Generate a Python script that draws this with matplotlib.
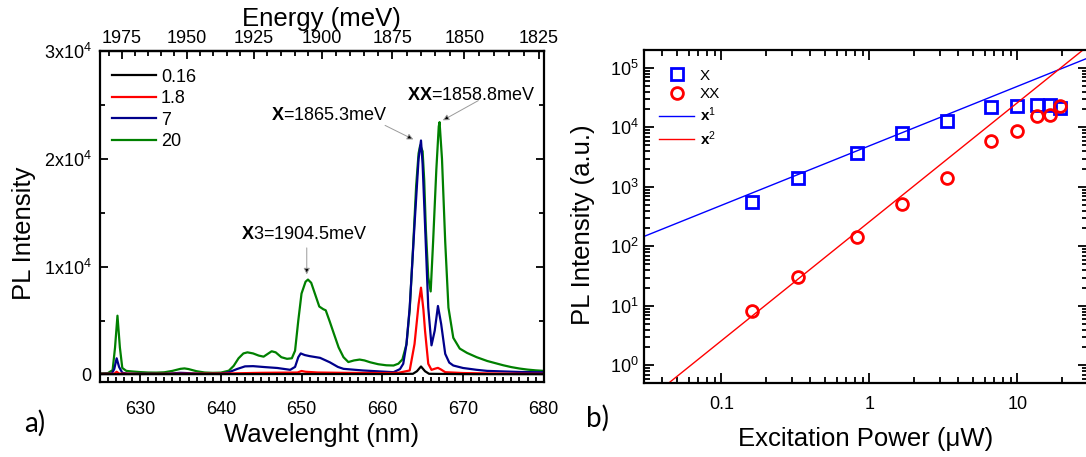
import numpy as np
import matplotlib
matplotlib.use("Agg")
import matplotlib.pyplot as plt
from matplotlib.ticker import MultipleLocator, FuncFormatter, LogLocator, NullFormatter

plt.rcParams['font.family'] = ['Liberation Sans', 'DejaVu Sans']
plt.rcParams['mathtext.fontset'] = 'custom'
plt.rcParams['mathtext.rm'] = 'Liberation Sans'
plt.rcParams['mathtext.bf'] = 'Liberation Sans:bold'
plt.rcParams['mathtext.it'] = 'Liberation Sans:italic'

# ---------------- data: panel a (PL spectra) ----------------
power_labels = ['0.16', '1.8', '7', '20']
line_colors = ['black', 'red', '#00008B', 'green']

wl_016 = [625, 640, 650, 660, 663.8, 664.3, 664.8, 665.3, 665.8, 670, 680]
pl_016 = [20, 30, 40, 40, 60, 300, 740, 300, 60, 30, 20]

wl_18 = [625, 626.8, 627.1, 627.4, 630, 640, 645, 649.5, 650.0, 650.5, 652, 655, 660, 662,
         663.4, 664.0, 664.5, 664.8, 665.1, 665.3, 665.7, 666.1, 666.6, 666.9, 667.3, 667.8,
         670, 675, 680]
pl_18 = [50, 60, 250, 80, 50, 80, 150, 180, 320, 250, 180, 150, 130, 150,
         370, 2830, 6500, 8050, 6000, 4060, 990, 430, 550, 610, 450, 210,
         130, 80, 60]

wl_7 = [625, 626.5, 626.8, 627.1, 627.4, 627.8, 628.5, 630, 633, 635, 636, 638, 640, 641, 642,
        643, 644, 645.5, 647, 648.6, 649.2, 649.6, 649.9, 650.4, 651.0, 652.3, 653.5, 654.5,
        655.2, 657.6, 659.7, 661.4, 662.2, 662.6, 663.0, 663.4, 664.0, 664.5, 664.8, 665.0,
        665.3, 665.7, 666.1, 666.5, 666.9, 667.3, 667.8, 668.3, 668.8, 670, 671.7, 673, 675,
        677, 680]
pl_7 = [60, 80, 500, 1500, 700, 150, 80, 70, 60, 150, 120, 60, 80, 200, 500,
        750, 770, 680, 600, 430, 700, 1600, 1950, 1800, 1700, 1540, 1130, 700,
        520, 370, 280, 210, 500, 990, 2800, 6200, 13900, 20000, 21700, 19500,
        13900, 6200, 2700, 4060, 6350, 4670, 1910, 1100, 830, 600, 430, 330, 280,
        230, 200]

wl_20 = [625.0, 626.0, 626.6, 626.9, 627.2, 627.5, 627.8, 628.3, 629.0, 630.0, 631.0, 632.0,
         633.0, 634.0, 635.0, 635.5, 636.0, 637.0, 638.0, 639.0, 640.0, 641.0, 641.6, 642.2,
         642.8, 643.3, 644.0, 644.7, 645.3, 645.8, 646.3, 646.8, 647.5, 648.2, 648.8, 649.2,
         649.6, 650.0, 650.5, 650.8, 651.2, 651.7, 652.2, 652.7, 653.0, 653.5, 654.0, 654.6,
         655.2, 655.8, 656.5, 657.2, 657.8, 658.5, 659.5, 660.5, 661.4, 662.0, 662.5, 663.0,
         663.4, 663.8, 664.2, 664.5, 664.7, 665.0, 665.2, 665.4, 665.7, 666.0, 666.3, 666.7,
         667.0, 667.1, 667.4, 667.8, 668.2, 668.8, 669.6, 670.5, 671.7, 673.0, 674.0, 675.0,
         676.0, 677.0, 678.0, 679.0, 680.0]
pl_20 = [100, 120, 400, 2500, 5450, 2500, 600, 330, 280, 220, 180, 170,
         200, 330, 520, 560, 500, 300, 180, 150, 170, 350, 800, 1500,
         1950, 2050, 1950, 1750, 1650, 1900, 2150, 2050, 1600, 1450, 1500, 2200,
         5000, 7500, 8600, 8800, 8500, 7400, 6300, 6050, 5950, 4900, 3800, 2500,
         1600, 1150, 1300, 1380, 1300, 1130, 950, 850, 830, 1000, 1400, 2800,
         6000, 11500, 17500, 20500, 21250, 20700, 18000, 13500, 9000, 7700, 12300, 19000,
         23000, 23400, 20000, 12300, 6200, 3400, 2400, 2000, 1600, 1250, 1050, 850,
         680, 550, 450, 380, 330]

# ---------------- data: panel b (power dependence) ----------------
power = [0.16, 0.33, 0.83, 1.67, 3.33, 6.67, 10, 13.5, 16.5, 19.5]
int_X = [550, 1390, 3720, 8040, 12700, 21900, 23000, 24000, 23400, 21500]
int_XX = [8.1, 30.9, 144, 513, 1420, 5840, 8580, 15300, 16000, 23000]
fit_power = [0.03, 30]
fit_x1 = [147, 147000]
fit_x2 = [0.234, 234000]

HC = 1239841.98  # meV*nm


def wl2e(w):
    w = np.asarray(w, dtype=float)
    return HC / np.where(w == 0, 1e-9, w)


fig = plt.figure(figsize=(10.86, 4.57), dpi=100)

# ---------------- panel a ----------------
ax = fig.add_axes([99.7 / 1086, 1 - 382 / 457, 444 / 1086, 331 / 457])
series = [(wl_20, pl_20, 3), (wl_7, pl_7, 2), (wl_18, pl_18, 1), (wl_016, pl_016, 0)]
handles = {}
for wl, pl, i in series:
    h, = ax.plot(wl, pl, color=line_colors[i], lw=1.6, label=power_labels[i])
    handles[i] = h
ax.set_xlim(625, 680)
ax.set_ylim(-700, 30000)
ax.xaxis.set_major_locator(MultipleLocator(10))
ax.xaxis.set_minor_locator(MultipleLocator(1))
ax.yaxis.set_major_locator(MultipleLocator(10000))
ax.yaxis.set_minor_locator(MultipleLocator(5000))


def yfmt(v, pos):
    n = int(round(v / 1e4))
    if n == 0:
        return '0'
    return f'{n}x10$^{{4}}$'


ax.yaxis.set_major_formatter(FuncFormatter(yfmt))
ax.tick_params(axis='both', which='both', direction='in', labelsize=13, width=1.3,
               top=False, right=True)
ax.tick_params(axis='both', which='major', length=6)
ax.tick_params(axis='both', which='minor', length=3.5)
ax.tick_params(axis='x', which='major', pad=14)
ax.tick_params(axis='y', which='major', pad=6)
for s in ax.spines.values():
    s.set_linewidth(1.6)
ax.set_xlabel('Wavelenght (nm)', fontsize=18.5, labelpad=3)
ax.set_ylabel('PL Intensity', fontsize=18.5)
ax.yaxis.set_label_coords(-0.143, 0.45)

sec = ax.secondary_xaxis('top', functions=(wl2e, wl2e))
sec.xaxis.set_major_locator(MultipleLocator(25))
sec.xaxis.set_minor_locator(MultipleLocator(5))
sec.tick_params(axis='x', which='both', direction='in', labelsize=13, width=1.3)
sec.tick_params(axis='x', which='major', length=6, pad=3)
sec.tick_params(axis='x', which='minor', length=3.5)
sec.set_xlabel('Energy (meV)', fontsize=18.5, labelpad=3)
sec.spines['top'].set_linewidth(1.6)

leg = ax.legend([handles[i] for i in range(4)], power_labels, loc='upper left',
                bbox_to_anchor=(0.0, 0.985), frameon=False, fontsize=13,
                handlelength=2.4, handletextpad=0.3, labelspacing=0.25,
                borderaxespad=0.3)

arrow_kw = dict(arrowstyle='-|>', ec='#9a9a9a', fc='black', lw=0.7, mutation_scale=9,
                shrinkA=0, shrinkB=0)
ax.annotate('', xy=(663.85, 21800), xytext=(660.35, 23100), arrowprops=arrow_kw)
ax.text(653.4, 24000, r'$\mathbf{X}$=1865.3meV', fontsize=13, ha='center', va='center')
ax.annotate('', xy=(667.5, 23570), xytext=(671.9, 25400), arrowprops=arrow_kw)
ax.text(671.0, 25900, r'$\mathbf{XX}$=1858.8meV', fontsize=13, ha='center', va='center')
ax.annotate('', xy=(650.65, 9280), xytext=(650.65, 11740), arrowprops=arrow_kw)
ax.text(650.4, 12970, r'$\mathbf{X}$3=1904.5meV', fontsize=13, ha='center', va='center')

fig.text(35 / 1086, 1 - 423 / 457, 'a)', fontsize=20, family='Lato', ha='center', va='center')

# ---------------- panel b ----------------
bx = fig.add_axes([644 / 1086, 1 - 383.3 / 457, 444 / 1086, 333.3 / 457])
bx.set_xscale('log')
bx.set_yscale('log')
bx.plot(power, int_X, ls='none', marker='s', ms=8, mfc='none', mec='#0000FF', mew=2.0,
        label='X')
bx.plot(power, int_XX, ls='none', marker='o', ms=8.5, mfc='none', mec='#FF0000', mew=2.0,
        label='XX')
bx.plot(fit_power, fit_x1, color='#0000FF', lw=1.0, label=r'$\mathbf{x}^{1}$')
bx.plot(fit_power, fit_x2, color='#FF0000', lw=1.0, label=r'$\mathbf{x}^{2}$')
bx.set_xlim(0.03, 30)
bx.set_ylim(0.5, 2e5)
bx.xaxis.set_major_locator(LogLocator(base=10, numticks=10))
bx.xaxis.set_minor_locator(LogLocator(base=10, subs=np.arange(2, 10), numticks=20))
bx.xaxis.set_minor_formatter(NullFormatter())
bx.xaxis.set_major_formatter(FuncFormatter(lambda v, p: f'{v:g}'))
bx.yaxis.set_major_locator(LogLocator(base=10, numticks=10))
bx.yaxis.set_minor_locator(LogLocator(base=10, subs=np.arange(2, 10), numticks=20))
bx.yaxis.set_minor_formatter(NullFormatter())
bx.tick_params(axis='both', which='both', direction='in', labelsize=13, width=1.3,
               top=True, right=True)
bx.tick_params(axis='both', which='major', length=7)
bx.tick_params(axis='both', which='minor', length=4)
bx.tick_params(axis='x', which='major', pad=9)
bx.tick_params(axis='y', which='major', pad=4)
for s in bx.spines.values():
    s.set_linewidth(1.6)
bx.set_xlabel('Excitation Power (μW)', fontsize=18.5, labelpad=10)
bx.set_ylabel('PL Intensity (a.u.)', fontsize=18.5)
bx.yaxis.set_label_coords(-0.11, 0.475)
bx.legend(loc='upper left', bbox_to_anchor=(0.0, 0.99), frameon=False, fontsize=11,
          handlelength=2.3, handletextpad=0.35, labelspacing=0.3, borderaxespad=0.6)

fig.text(598 / 1086, 1 - 418 / 457, 'b)', fontsize=20, family='Lato', ha='center', va='center')

fig.savefig('out.png', dpi=100)
